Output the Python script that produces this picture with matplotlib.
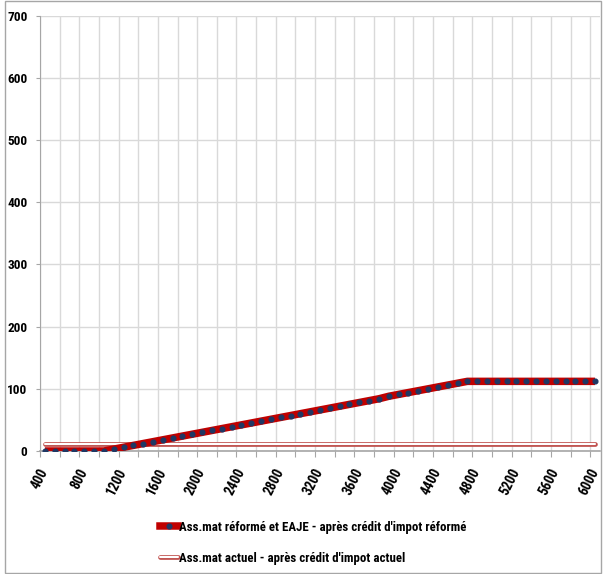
import matplotlib
matplotlib.use("Agg")
import matplotlib.pyplot as plt
from matplotlib.lines import Line2D
from matplotlib.patches import Rectangle

plt.rcParams["font.family"] = ["Roboto Condensed", "DejaVu Sans"]
plt.rcParams["font.weight"] = "bold"

# revenu (categories, step 100)
categories = list(range(400, 6100, 100))

reforme = [
    0, 0, 0, 0, 0, 0, 0,
    3, 6, 9, 12, 15, 18, 21, 24, 27, 30,
    33, 36, 39, 42, 45, 48, 51, 54, 57, 60,
    63, 66, 69, 72, 75, 78, 81, 84, 88, 91,
    94, 97, 100, 103, 106, 109, 112,
    112, 112, 112, 112, 112, 112, 112, 112, 112, 112, 112, 112, 112,
]
actuel = [12] * len(categories)

label_reforme = "Ass.mat réformé et EAJE - après crédit d'impot réformé"
label_actuel = "Ass.mat actuel - après crédit d'impot actuel"

RED = "#C00000"
RED_LIGHT = "#C0504D"
NAVY = "#1F3864"
GRID = "#D9D9D9"
AXIS = "#A6A6A6"

W, H = 603, 574
fig = plt.figure(figsize=(W / 100, H / 100), dpi=100)
ax = fig.add_axes([40 / W, (H - 451) / H, 560 / W, (451 - 15.7) / H])

x = list(range(len(categories)))

ax.plot(x, actuel, color=RED_LIGHT, lw=3.4, solid_capstyle="round", zorder=3)
ax.plot(x, actuel, color="white", lw=1.5, solid_capstyle="round", zorder=3.1)
ax.plot(x, reforme, color=RED, lw=5.4, solid_capstyle="butt", zorder=4)
ax.plot(x, reforme, ls="none", marker="o", ms=3.4, color=NAVY, zorder=5)

ax.set_xlim(-0.5, len(categories) - 0.5)
ax.set_ylim(0, 700)
ax.set_yticks(range(0, 800, 100))

# gridlines at category boundaries every 2, labels every 4
bounds = [b - 0.5 for b in range(0, len(categories) + 1, 2)]
ax.set_xticks(bounds, minor=False)
ax.set_xticklabels([])
ax.set_xticks(x[::4], minor=True)
ax.set_xticklabels([str(c) for c in categories[::4]], minor=True,
                   rotation=63, ha="right", va="center", rotation_mode="anchor",
                   fontsize=10, fontweight="bold")
ax.tick_params(axis="x", which="major", length=4, color=AXIS)
ax.tick_params(axis="x", which="minor", length=0, pad=13)
ax.tick_params(axis="y", length=3, color=AXIS, labelsize=9.5, pad=6)
for lab in ax.get_yticklabels():
    lab.set_fontweight("bold")

ax.grid(True, which="major", color=GRID, lw=1)
ax.set_axisbelow(True)
for side in ("top", "right"):
    ax.spines[side].set_visible(False)
ax.spines["left"].set_color(AXIS)
ax.spines["bottom"].set_color(AXIS)
ax.spines["bottom"].set_linewidth(1.2)

h1 = (Line2D([], [], color=RED, lw=5.4),
      Line2D([], [], ls="none", marker="o", ms=3.4, color=NAVY))
h2 = (Line2D([], [], color=RED_LIGHT, lw=3.4, solid_capstyle="round"),
      Line2D([], [], color="white", lw=1.5, solid_capstyle="round"))
fig.legend([h1, h2], [label_reforme, label_actuel],
           loc="upper left", bbox_to_anchor=(148 / W, 1 - 509 / H),
           frameon=False, handlelength=1.45, handletextpad=0.05,
           labelspacing=1.4, prop={"size": 9.3, "weight": "bold"})

fig.patches.append(Rectangle((5 / W, 1 / H), (W - 7) / W, (H - 2) / H,
                             transform=fig.transFigure, fill=False,
                             edgecolor=AXIS, lw=1))

fig.savefig("out.png", dpi=100)
